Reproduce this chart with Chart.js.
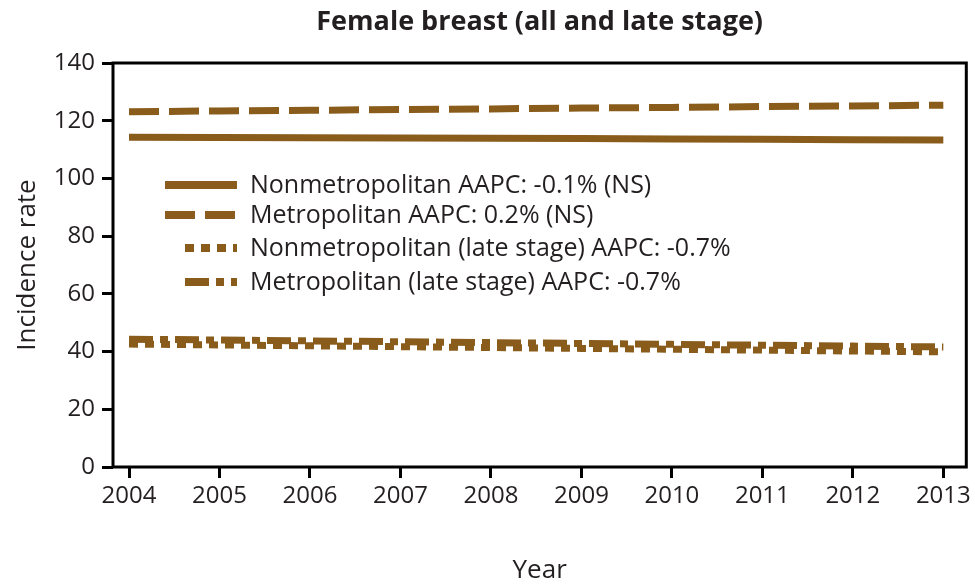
<!DOCTYPE html>
<html>
<head>
<meta charset="utf-8">
<script src="https://cdn.jsdelivr.net/npm/chart.js@4.4.0/dist/chart.umd.min.js"></script>
<style>
  body { margin: 0; background: #fff; }
  canvas { display: block; }
</style>
</head>
<body>
<canvas id="myChart" width="975" height="586"></canvas>
<script>
// values
var years = [2004, 2005, 2006, 2007, 2008, 2009, 2010, 2011, 2012, 2013];
var nonmetro = [114.3, 114.2, 114.1, 114.0, 113.9, 113.8, 113.7, 113.6, 113.4, 113.3];
var metro = [123.1, 123.4, 123.6, 123.9, 124.1, 124.4, 124.6, 124.9, 125.1, 125.4];
var nonmetroLate = [42.6, 42.3, 42.0, 41.7, 41.4, 41.1, 40.8, 40.5, 40.2, 39.9];
var metroLate = [44.3, 44.0, 43.7, 43.4, 43.1, 42.8, 42.5, 42.2, 41.9, 41.6];
var seriesLabels = [
  'Nonmetropolitan AAPC: -0.1% (NS)',
  'Metropolitan AAPC: 0.2% (NS)',
  'Nonmetropolitan (late stage) AAPC: -0.7%',
  'Metropolitan (late stage) AAPC: -0.7%'
];
var yTicks = [0, 20, 40, 60, 80, 100, 120, 140];

var brown = '#8a5c1c';
var ink = '#231f20';
var fontName = "'Open Sans', sans-serif";

function toPoints(vals) {
  var pts = [];
  for (var i = 0; i < years.length; i++) {
    pts.push({ x: years[i], y: vals[i] });
  }
  return pts;
}

function makeSet(label, vals, dash, sampleStart) {
  return {
    label: label,
    data: toPoints(vals),
    borderColor: brown,
    backgroundColor: brown,
    borderWidth: 7,
    borderDash: dash,
    borderCapStyle: 'butt',
    pointRadius: 0,
    tension: 0,
    sampleStart: sampleStart
  };
}

var dataSource = {
  datasets: [
    makeSet(seriesLabels[0], nonmetro, [], 165),
    makeSet(seriesLabels[1], metro, [30, 10], 165),
    makeSet(seriesLabels[2], nonmetroLate, [9, 7], 185),
    makeSet(seriesLabels[3], metroLate, [24, 7, 8, 7], 185)
  ]
};

// frame round the plot + legend inside the plot area
var framePlugin = {
  id: 'frame',
  afterDraw: function (chart) {
    var ctx = chart.ctx;
    var a = chart.chartArea;
    ctx.save();
    ctx.strokeStyle = '#000';
    ctx.lineWidth = 3;
    ctx.strokeRect(a.left, a.top, a.right - a.left, a.bottom - a.top);

    // legend
    var rowY = [185, 215, 248, 282];
    var sampleEnd = 237;
    chart.data.datasets.forEach(function (ds, i) {
      var y = rowY[i];
      ctx.beginPath();
      ctx.setLineDash(ds.borderDash);
      ctx.lineWidth = 8;
      ctx.lineCap = 'butt';
      ctx.strokeStyle = brown;
      ctx.moveTo(ds.sampleStart, y);
      ctx.lineTo(sampleEnd, y);
      ctx.stroke();
      ctx.setLineDash([]);
      ctx.fillStyle = ink;
      ctx.font = '25px ' + fontName;
      ctx.textAlign = 'left';
      ctx.textBaseline = 'middle';
      ctx.fillText(ds.label, 250, y + 1);
    });
    ctx.restore();
  }
};

var ctx = document.getElementById('myChart').getContext('2d');
var myChart = new Chart(ctx, {
  type: 'line',
  data: dataSource,
  plugins: [framePlugin],
  options: {
    responsive: false,
    animation: false,
    layout: { padding: { top: 0, right: 7, left: 0, bottom: 0 } },
    plugins: {
      legend: { display: false },
      tooltip: { enabled: false },
      title: {
        display: true,
        fullSize: false,
        text: 'Female breast (all and late stage)',
        color: ink,
        font: { family: fontName, size: 27, weight: 'bold' },
        padding: { top: 6, bottom: 24.6 }
      }
    },
    scales: {
      x: {
        type: 'linear',
        min: 2003.823,
        max: 2013.254,
        afterFit: function (scale) { scale.height = 119; },
        border: { display: false },
        grid: { drawOnChartArea: false, drawTicks: true, tickLength: 11, color: '#000', lineWidth: 3 },
        ticks: {
          includeBounds: false,
          stepSize: 1,
          color: ink,
          padding: 4,
          font: { family: fontName, size: 24 },
          maxRotation: 0,
          callback: function (v) { return String(v); }
        },
        title: {
          display: true,
          text: 'Year',
          color: ink,
          font: { family: fontName, size: 26 },
          padding: { top: 0, bottom: 0 }
        }
      },
      y: {
        min: 0,
        max: 140,
        afterFit: function (scale) { scale.width = 113; },
        afterBuildTicks: function (scale) {
          scale.ticks = yTicks.map(function (v) { return { value: v }; });
        },
        border: { display: false },
        grid: { drawOnChartArea: false, drawTicks: true, tickLength: 11, color: '#000', lineWidth: 3 },
        ticks: {
          color: ink,
          padding: 7,
          font: { family: fontName, size: 24 }
        },
        title: {
          display: true,
          text: 'Incidence rate',
          color: ink,
          font: { family: fontName, size: 26 },
          padding: { top: 12, bottom: 0 }
        }
      }
    }
  }
});
</script>
</body>
</html>
